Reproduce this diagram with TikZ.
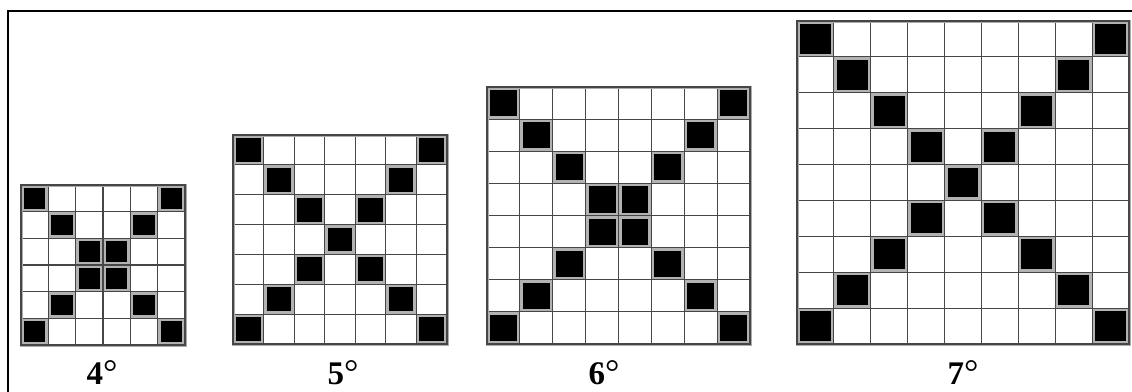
\documentclass[tikz,border=0pt]{standalone}
\usepackage{fontspec}
\setmainfont{Liberation Serif}
\tikzset{
  gridline/.style={draw=gray!55!black, line width=1.1pt},
  gridouter/.style={draw=gray!65, line width=3pt},
  cellhalo/.style={fill=gray!60},
  blackcell/.style={fill=black},
  frameline/.style={draw=black, line width=2pt},
  lab/.style={font=\bfseries\fontsize{33}{33}\selectfont, anchor=base, inner sep=0pt}
}
\newcommand{\degsign}{{\mdseries\fontsize{36}{36}\selectfont °}}
\newcommand{\xgrid}[5]{%
  \pgfmathsetmacro{\cw}{(#3-#1)/#5}%
  \pgfmathsetmacro{\ch}{(#4-#2)/#5}%
  \pgfmathtruncatemacro{\nm}{#5-1}%
  \fill[white] (#1,#2) rectangle (#3,#4);
  \foreach \i in {0,...,\nm}{%
    \pgfmathsetmacro{\xa}{#1+\i*\cw}%
    \pgfmathsetmacro{\xb}{#3-(\i+1)*\cw}%
    \pgfmathsetmacro{\ya}{#2+\i*\ch}%
    \fill[cellhalo] (\xa,\ya) rectangle ++(\cw,\ch);
    \fill[cellhalo] (\xb,\ya) rectangle ++(\cw,\ch);
  }
  \foreach \i in {1,...,\nm}{%
    \pgfmathsetmacro{\xa}{#1+\i*\cw}%
    \pgfmathsetmacro{\ya}{#2+\i*\ch}%
    \draw[gridline] (\xa,#2) -- (\xa,#4);
    \draw[gridline] (#1,\ya) -- (#3,\ya);
  }
  \draw[gridouter] (#1,#2) rectangle (#3,#4);
  \draw[gridline] (#1,#2) rectangle (#3,#4);
  \foreach \i in {0,...,\nm}{%
    \pgfmathsetmacro{\xa}{#1+\i*\cw}%
    \pgfmathsetmacro{\xb}{#3-(\i+1)*\cw}%
    \pgfmathsetmacro{\ya}{#2+\i*\ch}%
    \fill[blackcell] (\xa+3,\ya+3) rectangle ++(\cw-6,\ch-6);
    \fill[blackcell] (\xb+3,\ya+3) rectangle ++(\cw-6,\ch-6);
  }
}
\begin{document}
\begin{tikzpicture}[x=1pt,y=-1pt]
  \useasboundingbox (0,0) rectangle (1132,391);
  \fill[white] (0,0) rectangle (1132,391);
  \draw[frameline] (8,400) -- (8,11) -- (1140,11);
  \xgrid{21}{185}{185}{345}{6}
  \xgrid{233}{135}{447}{344}{7}
  \xgrid{487}{87}{750}{344}{8}
  \xgrid{797}{21}{1129}{344}{9}
  \node[lab] (l4) at (102,384) {4\degsign};
  \node[lab] (l5) at (343,384) {5\degsign};
  \node[lab] (l6) at (604,384) {6\degsign};
  \node[lab] (l7) at (963,384) {7\degsign};
\end{tikzpicture}
\end{document}
